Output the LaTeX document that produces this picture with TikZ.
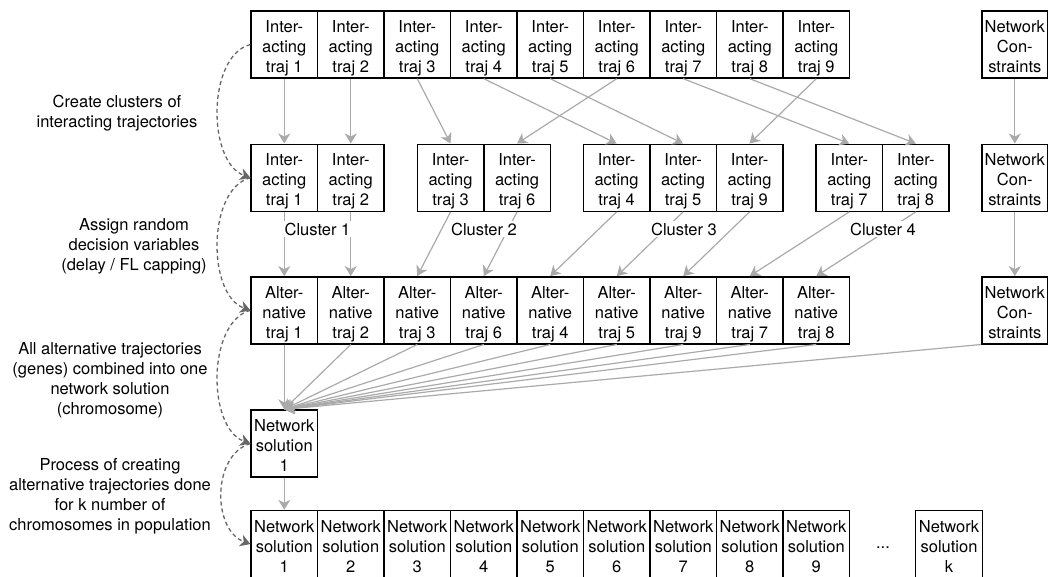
\documentclass[tikz,border=0pt]{standalone}
\usepackage{fontspec}
\setmainfont{TeX Gyre Heros}
\usetikzlibrary{arrows.meta}
\definecolor{arrgray}{HTML}{AAAAAA}
\definecolor{dgray}{HTML}{666666}
\begin{document}
\begin{tikzpicture}[x=1pt,y=-1pt,
  box/.style={draw=black,line width=1.4pt,minimum width=66.5pt,minimum height=67pt,inner sep=0pt,align=center,font=\fontsize{16.5}{20}\selectfont,text height=60.5pt,text depth=4.5pt},
  garrow/.style={draw=arrgray,line width=1.2pt,-{Stealth[length=10pt,width=12pt,inset=3pt]}},
  darrow/.style={draw=dgray,line width=1.3pt,dash pattern=on 4pt off 3pt,-{Stealth[length=10pt,width=12pt,inset=3pt]}},
  lbl/.style={align=center,font=\fontsize{16.5}{20}\selectfont,inner sep=0pt},
  clbl/.style={fill=white,inner sep=2pt,font=\fontsize{16.5}{20}\selectfont}]
\useasboundingbox (0,0) rectangle (1048,576);
% top row
\foreach \i in {1,...,9}{
  \node[box] (t\i) at ({284.25+(\i-1)*66.5},44.5) {Inter-\\acting\\traj \i};
}
% cluster row
\foreach \n/\x in {1/284.25,2/350.75,3/450.55,6/517.05,4/616.55,5/683.05,9/749.55,7/849.25,8/915.75}{
  \node[box] (c\n) at (\x,177.7) {Inter-\\acting\\traj \n};
}
% alternative row
\foreach \n [count=\k from 0] in {1,2,3,6,4,5,9,7,8}{
  \node[box] (a\n) at ({284.25+\k*66.5},310.3) {Alter-\\native\\traj \n};
}
% network constraints
\node[box,minimum width=66pt] (nc1) at (1014.8,44.5) {Network\\Con-\\straints};
\node[box,minimum width=66pt] (nc2) at (1014.8,177.7) {Network\\Con-\\straints};
\node[box,minimum width=66pt] (nc3) at (1014.8,310.3) {Network\\Con-\\straints};
% network solution 1
\node[box] (ns) at (284.25,443.5) {Network\\solution\\1};
% final row
\foreach \i in {1,...,9}{
  \node[box] (s\i) at ({284.25+(\i-1)*66.5},544) {Network\\solution\\\i};
}
\node[box] (sk) at (949,544) {Network\\solution\\k};
\node[font=\fontsize{16.5}{20}\selectfont] (dots) at (883,548) {...};
% arrows top -> clusters
\foreach \n in {1,...,9}{
  \draw[garrow] (t\n.south) -- (c\n.north);
}
\draw[garrow] (nc1) -- (nc2);
\draw[garrow] (nc2) -- (nc3);
% clusters -> alternatives
\foreach \n in {1,...,9}{
  \draw[garrow] (c\n.south) -- (a\n.north);
}
% cluster labels
\node[clbl] (cl1) at (317.5,229) {Cluster 1};
\node[clbl] (cl2) at (484,229) {Cluster 2};
\node[clbl] (cl3) at (684,229) {Cluster 3};
\node[clbl] (cl4) at (883,229) {Cluster 4};
% alternatives -> network solution
\foreach \n in {1,2,3,6,4,5,9,7,8}{
  \draw[garrow] (a\n.south) -- (ns.north);
}
\draw[garrow] (nc3.south west) -- (ns.north);
\draw[garrow] (ns) -- (s1);
% left labels
\node[lbl] (l1) at (117,113) {Create clusters of\\interacting trajectories};
\node[lbl] (l2) at (134,246) {Assign random\\decision variables\\(delay / FL capping)};
\node[lbl] (l3) at (110,380) {All alternative trajectories\\(genes) combined into one\\network solution\\(chromosome)};
\node[lbl] (l4) at (110,496) {Process of creating\\alternative trajectories done\\for k number of\\chromosomes in population};
% dashed curved arrows
\draw[darrow] (t1.west) .. controls (207,56) and (207,162) .. (c1.west);
\draw[darrow] (c1.west) .. controls (207,189) and (207,295) .. (a1.west);
\draw[darrow] (a1.west) .. controls (207,322) and (207,428) .. (ns.west);
\draw[darrow] (ns.west) .. controls (212,455) and (212,530) .. (s1.west);
\end{tikzpicture}
\end{document}
